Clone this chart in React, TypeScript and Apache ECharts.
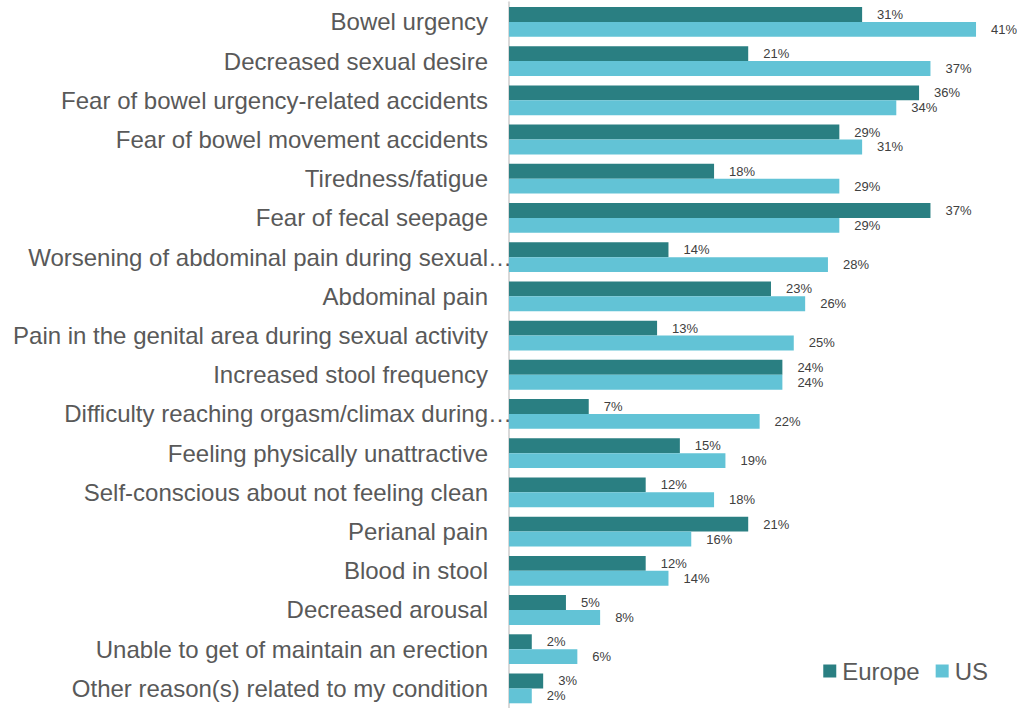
import React, { useEffect, useRef } from "react";
import * as echarts from "echarts";

const categories = [
  "Bowel urgency",
  "Decreased sexual desire",
  "Fear of bowel urgency-related accidents",
  "Fear of bowel movement accidents",
  "Tiredness/fatigue",
  "Fear of fecal seepage",
  "Worsening of abdominal pain during sexual…",
  "Abdominal pain",
  "Pain in the genital area during sexual activity",
  "Increased stool frequency",
  "Difficulty reaching orgasm/climax during…",
  "Feeling physically unattractive",
  "Self-conscious about not feeling clean",
  "Perianal pain",
  "Blood in stool",
  "Decreased arousal",
  "Unable to get of maintain an erection",
  "Other reason(s) related to my condition",
];
const europe = [31, 21, 36, 29, 18, 37, 14, 23, 13, 24, 7, 15, 12, 21, 12, 5, 2, 3];
const us = [41, 37, 34, 31, 29, 29, 28, 26, 25, 24, 22, 19, 18, 16, 14, 8, 6, 2];

const FONT = "'Liberation Sans', Arial, sans-serif";

export default function App() {
  const ref = useRef<HTMLDivElement>(null);
  useEffect(() => {
    if (!ref.current) return;
    const chart = echarts.init(ref.current, null, { renderer: "svg" });
    const label = {
      show: true,
      position: "right",
      distance: 15,
      formatter: "{c}%",
      color: "#404040",
      fontSize: 13,
      fontFamily: FONT,
    };
    const catStyle = { fontSize: 24, color: "#595959", fontFamily: FONT };
    chart.setOption({
      animation: false,
      backgroundColor: "#ffffff",
      textStyle: { fontFamily: FONT },
      grid: { left: 509, top: 2.3, width: 501.2, height: 709.4 },
      legend: {
        right: 24,
        top: 654,
        itemWidth: 13,
        itemHeight: 13,
        itemGap: 16,
        icon: "rect",
        textStyle: { fontSize: 24, color: "#595959", fontFamily: FONT, padding: [0, 0, 0, 1] },
        data: ["Europe", "US"],
      },
      xAxis: {
        type: "value",
        min: 0,
        max: 44,
        show: false,
        splitLine: { show: false },
      },
      yAxis: {
        type: "category",
        data: categories,
        inverse: true,
        axisLine: { show: true, lineStyle: { color: "#d9d9d9", width: 2 } },
        axisTick: { show: false },
        axisLabel: {
          margin: 21,
          fontSize: 24,
          color: "#595959",
          fontFamily: FONT,
          interval: 0,
          formatter: (v: string) =>
            v.endsWith("…") ? `{u|${v.slice(0, -1)}}{e|…}` : `{t|${v}}`,
          rich: {
            t: catStyle,
            u: { ...catStyle, align: "left" },
            e: { ...catStyle, align: "left", width: 0 },
          },
        },
      },
      series: [
        {
          name: "Europe",
          type: "bar",
          data: europe,
          barGap: "0%",
          barCategoryGap: "24%",
          itemStyle: { color: "#2a7f82" },
          label,
        },
        {
          name: "US",
          type: "bar",
          data: us,
          barGap: "0%",
          barCategoryGap: "24%",
          itemStyle: { color: "#62c3d6" },
          label,
        },
      ],
    });
    return () => chart.dispose();
  }, []);
  return (
    <div
      ref={ref}
      style={{ position: "fixed", left: 0, top: 0, width: 1017, height: 708 }}
    />
  );
}
